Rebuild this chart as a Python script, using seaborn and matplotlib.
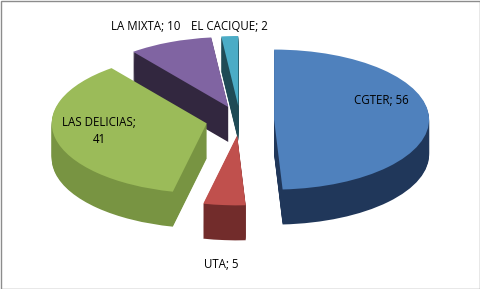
import matplotlib
matplotlib.use("Agg")
import matplotlib.pyplot as plt
import seaborn as sns
from matplotlib.patches import Rectangle

categories = ["CGTER", "UTA", "LAS DELICIAS", "LA MIXTA", "EL CACIQUE"]
values = [56, 5, 41, 10, 2]
top_colors = ["#4F81BD", "#C0504D", "#9BBB59", "#8064A2", "#4BACC6"]
side_colors = ["#20375A", "#722C2B", "#789442", "#32273F", "#1F4B56"]
explode = [0.22, 0.22, 0.22, 0.2, 0.2]
draw_rank = [2, 4, 3, 0, 1]  # back-to-front drawing order

sns.set_theme(style="white")
plt.rcParams['font.family'] = ['Open Sans', 'DejaVu Sans']

W, H = 481, 289
fig = plt.figure(figsize=(W / 100, H / 100), dpi=100)
ax = fig.add_axes([0, 0, 1, 1])

RX, RY, CX, CY = 155.0, 70.0, 240.0, 120.0  # pixel geometry of the pie ellipse
depth_px = 35
nlayers = 36

for k in range(nlayers, 0, -1):
    off = -(depth_px * k / nlayers) / RY
    wedges, _ = ax.pie(values, explode=explode, colors=side_colors, startangle=90,
                       counterclock=False, center=(0, off),
                       wedgeprops=dict(linewidth=0, antialiased=True))
    for w, r in zip(wedges, draw_rank):
        w.set_zorder(r * 2 + 1)

wedges, _ = ax.pie(values, explode=explode, colors=top_colors, startangle=90,
                   counterclock=False, center=(0, 0),
                   wedgeprops=dict(linewidth=0))
for w, r in zip(wedges, draw_rank):
    w.set_zorder(r * 2 + 2)

ax.set_aspect('auto')
ax.set_xlim(-CX / RX, (W - CX) / RX)
ax.set_ylim(-(H - CY) / RY, CY / RY)
ax.axis('off')

def px(x, y):
    return (x - CX) / RX, (CY - y) / RY

label_pos = {
    "CGTER": (381, 101),
    "UTA": (221, 264),
    "LAS DELICIAS": (99, 131),
    "LA MIXTA": (146, 27),
    "EL CACIQUE": (229, 26),
}
for name, v in zip(categories, values):
    txt = f"{name}; {v}" if name != "LAS DELICIAS" else f"{name};\n{v}"
    x, y = px(*label_pos[name])
    ax.text(x, y, txt, ha="center", va="center", fontsize=8.3, color="#000000",
            zorder=20, linespacing=1.45)

fig.patches.append(Rectangle((0.5 / W, 0.5 / H), 1 - 1.5 / W, 1 - 1.5 / H,
                             transform=fig.transFigure, fill=False,
                             edgecolor="#8c8c8c", linewidth=1))

fig.savefig("out.png", dpi=100, facecolor="white")
